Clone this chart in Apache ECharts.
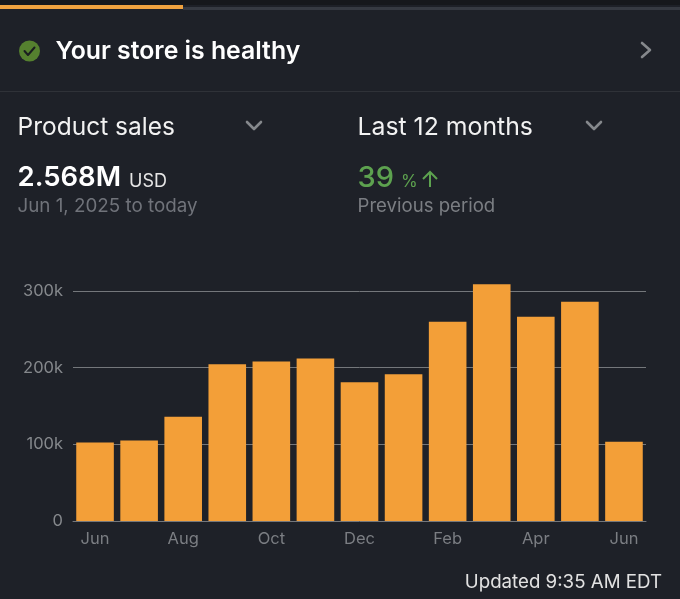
<!DOCTYPE html>
<html>
<head>
<meta charset="utf-8">
<style>html,body{margin:0;padding:0;background:#1e2128}#c{width:680px;height:599px}</style>
<script src="https://cdn.jsdelivr.net/npm/echarts@6/dist/echarts.min.js"></script>
</head>
<body>
<div id="c"></div>
<script>
const months = ['Jun','Jul','Aug','Sep','Oct','Nov','Dec','Jan','Feb','Mar','Apr','May','Jun'];
const sales = [102500,105000,136000,204500,208000,212000,181000,191500,260000,309000,266500,286000,103500];
const yTicks = {0:'0',100000:'100k',200000:'200k',300000:'300k'};

const FONT = 'Inter, "Noto Sans", sans-serif';
const txt = (x,y,text,size,fill,weight,extra) => ({type:'text',x,y,style:Object.assign({text,fontSize:size,fill,fontWeight:weight||400,fontFamily:FONT,textVerticalAlign:'middle'},extra||{})});
const rect = (x,y,w,h,fill) => ({type:'rect',shape:{x,y,width:w,height:h},style:{fill}});
const chevron = (pts,stroke) => ({type:'polyline',shape:{points:pts},style:{stroke,fill:null,lineWidth:2.6,lineCap:'round',lineJoin:'round'}});

const chart = echarts.init(document.getElementById('c'),null,{renderer:'canvas',width:680,height:599});
chart.setOption({
  animation:false,
  backgroundColor:'#1e2128',
  grid:{left:73,right:34,top:275.7,height:245.3,containLabel:false},
  xAxis:{
    type:'category',data:months,
    axisLine:{lineStyle:{color:'#74777b',width:1}},
    axisTick:{show:false},
    axisLabel:{interval:1,color:'#7b7e83',fontSize:16.5,fontFamily:FONT,margin:10},
    splitLine:{show:false}
  },
  yAxis:{
    type:'value',min:0,max:320000,interval:100000,
    axisLine:{show:false},axisTick:{show:false},
    axisLabel:{color:'#85888c',fontSize:16.5,fontFamily:FONT,margin:10,showMaxLabel:false,formatter:v=>yTicks[v]},
    splitLine:{show:true,showMaxLine:false,showMinLine:false,lineStyle:{color:'#74777b',width:1}}
  },
  series:[{type:'bar',data:sales,barWidth:37.6,itemStyle:{color:'#f39f38'},z:3}],
  graphic:{elements:[
    rect(0,0,680,5,'#16181c'),
    rect(0,5,183,4,'#f0a23f'),
    rect(183,7,497,3,'#363a42'),
    rect(0,91,680,1,'#2f3238'),
    {type:'circle',shape:{cx:29.5,cy:51,r:10.5},style:{fill:'#55802f'}},
    {type:'polyline',shape:{points:[[24.5,51],[28,55],[34.5,47.5]]},style:{stroke:'#1a1d20',fill:null,lineWidth:2,lineCap:'round',lineJoin:'round'}},
    txt(55.5,51.5,'Your store is healthy',24.8,'#ffffff',600),
    chevron([[642,43],[650,50],[642,57]],'#85888c'),
    txt(17.5,127.5,'Product sales',24.5,'#f2f2f2',400),
    chevron([[247,122],[254,129],[261,122]],'#85888c'),
    txt(357.5,127.5,'Last 12 months',24.8,'#f2f2f2',400),
    chevron([[587,122],[594,129],[601,122]],'#85888c'),
    txt(17.5,178,'2.568M',27.5,'#ffffff',600),
    txt(129,182,'USD',18,'#e6e6e6',400),
    txt(17.5,206,'Jun 1, 2025 to today',18.8,'#70737a',400),
    txt(357.5,178,'39',29,'#5da24f',500),
    txt(401,182,'%',17,'#5da24f',400),
    {type:'polyline',shape:{points:[[430,187],[430,172]]},style:{stroke:'#5da24f',fill:null,lineWidth:2}},
    {type:'polyline',shape:{points:[[423,179],[430,172],[437,179]]},style:{stroke:'#5da24f',fill:null,lineWidth:2}},
    txt(357.5,206,'Previous period',18.6,'#7b7e83',400),
    txt(662,582.5,'Updated 9:35 AM EDT',18.7,'#e2e2e2',400,{textAlign:'right'})
  ]}
});
</script>
</body>
</html>
